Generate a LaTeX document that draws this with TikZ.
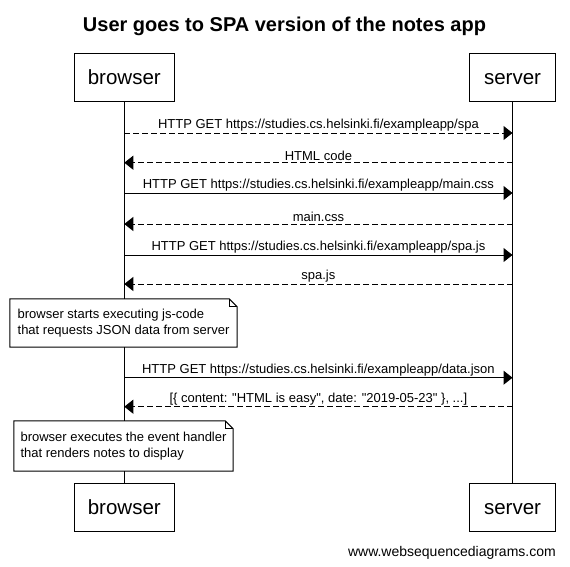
\documentclass[tikz,border=0pt]{standalone}
\usepackage{fontspec}
\newfontfamily\arial{Liberation Sans}
\usetikzlibrary{arrows.meta}
\begin{document}
\begin{tikzpicture}[x=1pt,y=-1pt,
  actor/.style={draw, line width=1pt, fill=white, minimum height=48.5pt, inner sep=0pt,
    text height=14.5pt, text depth=0pt, font=\arial\fontsize{20.5}{24}\selectfont},
  lifeline/.style={line width=1pt},
  msg/.style={line width=1pt, -{Triangle[length=9pt,width=14pt]}},
  ret/.style={msg, dash pattern=on 6pt off 3pt},
  lbl/.style={font=\arial\fontsize{13}{15}\selectfont, inner sep=1.5pt, above},
  notebox/.style={fill=white, align=left, inner ysep=0pt, inner xsep=0pt,
    font=\arial\fontsize{13}{16}\selectfont},
  noteline/.style={line width=1pt}
]
\useasboundingbox[fill=white] (0,0) rectangle (570,566);

% title
\node[anchor=base, font=\arial\bfseries\fontsize{20}{24}\selectfont] (title) at (284.5,31.7)
  {User goes to SPA version of the notes app};

% actors
\node[actor, minimum width=100pt] (bt) at (124.3,77.5) {browser};
\node[actor, minimum width=86.4pt] (st) at (512.5,77.5) {server};
\node[actor, minimum width=100pt] (bb) at (124.3,507.5) {browser};
\node[actor, minimum width=86.4pt] (sb) at (512.5,507.5) {server};

% lifelines
\draw[lifeline] (bt.south) -- (bb.north);
\draw[lifeline] (st.south) -- (sb.north);

% message anchors
\foreach \i/\y in {1/133,2/162.7,3/193,4/224,5/255,6/284,7/377.7,8/406.7}{
  \coordinate (b\i) at (124.3,\y);
  \coordinate (s\i) at (512.5,\y);
}

\draw[ret] (b1) -- (s1) node[lbl, midway] {HTTP GET https://studies.cs.helsinki.fi/exampleapp/spa};
\draw[ret] (s2) -- (b2) node[lbl, midway] {HTML code};
\draw[msg] (b3) -- (s3) node[lbl, midway] {HTTP GET https://studies.cs.helsinki.fi/exampleapp/main.css};
\draw[ret] (s4) -- (b4) node[lbl, midway] {main.css};
\draw[msg] (b5) -- (s5) node[lbl, midway] {HTTP GET https://studies.cs.helsinki.fi/exampleapp/spa.js};
\draw[ret] (s6) -- (b6) node[lbl, midway] {spa.js};
\draw[msg] (b7) -- (s7) node[lbl, midway] {HTTP GET https://studies.cs.helsinki.fi/exampleapp/data.json};
\draw[ret] (s8) -- (b8) node[lbl, midway] {[\{ content: "HTML is easy", date: "2019-05-23" \}, ...]};

% notes
\node[notebox, minimum width=227pt, minimum height=48pt] (n1) at (123.5,323)
  {browser starts executing js-code\\that requests JSON data from server};
\draw[noteline] (n1.north west) -- ([xshift=-8pt]n1.north east) -- ([yshift=-8pt]n1.north east)
  -- (n1.south east) -- (n1.south west) -- cycle;
\draw[noteline] ([xshift=-8pt]n1.north east) -- ([xshift=-8pt,yshift=-8pt]n1.north east) -- ([yshift=-8pt]n1.north east);

\node[notebox, minimum width=219pt, minimum height=50pt] (n2) at (123.5,446)
  {browser executes the event handler\\that renders notes to display};
\draw[noteline] (n2.north west) -- ([xshift=-8pt]n2.north east) -- ([yshift=-8pt]n2.north east)
  -- (n2.south east) -- (n2.south west) -- cycle;
\draw[noteline] ([xshift=-8pt]n2.north east) -- ([xshift=-8pt,yshift=-8pt]n2.north east) -- ([yshift=-8pt]n2.north east);

% watermark
\node[anchor=base east, inner sep=0pt, font=\arial\fontsize{14}{16}\selectfont] (wm) at (556,556)
  {www.websequencediagrams.com};
\end{tikzpicture}
\end{document}
